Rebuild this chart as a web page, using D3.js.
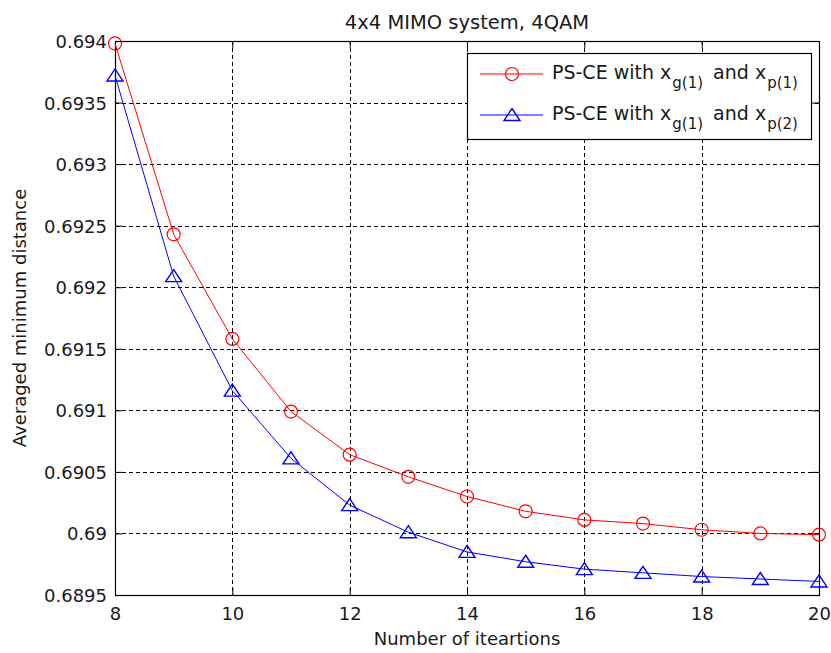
<!DOCTYPE html>
<html>
<head>
<meta charset="utf-8">
<script src="https://cdn.jsdelivr.net/npm/d3@7"></script>
<style>
  html, body { margin: 0; padding: 0; background: #fff; }
  svg { display: block; }
  text { font-family: "DejaVu Sans", sans-serif; fill: #1a1a1a; }
</style>
</head>
<body>
<svg id="chart" width="831" height="653"></svg>
<script>
// ---- data ----
const iterations = [8, 9, 10, 11, 12, 13, 14, 15, 16, 17, 18, 19, 20];
const seriesP1 = [0.69398, 0.69243, 0.69158, 0.69099, 0.69064, 0.69046, 0.69030, 0.69018, 0.69011, 0.69008, 0.69003, 0.69000, 0.68999];
const seriesP2 = [0.69372, 0.69209, 0.69116, 0.69061, 0.69023, 0.69001, 0.68985, 0.68977, 0.68971, 0.68968, 0.68965, 0.68963, 0.68961];
const xTicks = [8, 10, 12, 14, 16, 18, 20];
const yTicks = [0.6895, 0.69, 0.6905, 0.691, 0.6915, 0.692, 0.6925, 0.693, 0.6935, 0.694];
const yTickLabels = ["0.6895", "0.69", "0.6905", "0.691", "0.6915", "0.692", "0.6925", "0.693", "0.6935", "0.694"];
const titleText = "4x4 MIMO system, 4QAM";
const xLabelText = "Number of iteartions";
const yLabelText = "Averaged minimum distance";
const legendSub1 = ["g(1)", "p(1)"];
const legendSub2 = ["g(1)", "p(2)"];

// ---- layout ----
const L = 115, R = 819, T = 41, B = 595;
const svg = d3.select("#chart");

const x = d3.scaleLinear().domain([8, 20]).range([L, R]);
const y = d3.scaleLinear().domain([0.6895, 0.694]).range([B, T]);

// grid
const grid = svg.append("g").attr("stroke", "#000").attr("stroke-width", 1).attr("stroke-dasharray", "4,3");
grid.selectAll("line.gx").data(xTicks.slice(1, -1)).enter().append("line")
  .attr("x1", d => Math.round(x(d)) + 0.5).attr("x2", d => Math.round(x(d)) + 0.5)
  .attr("y1", T).attr("y2", B);
grid.selectAll("line.gy").data(yTicks.slice(1, -1)).enter().append("line")
  .attr("y1", d => Math.round(y(d)) + 0.5).attr("y2", d => Math.round(y(d)) + 0.5)
  .attr("x1", L).attr("x2", R);

// axes via d3.axis (inward ticks)
const tickLen = 7;
const fmtY = d => yTickLabels[yTicks.indexOf(d)];
function styleAxis(g) {
  g.select(".domain").remove();
  g.selectAll(".tick line").attr("stroke", "#000").attr("stroke-width", 1);
  g.selectAll(".tick text").attr("font-size", 18).attr("fill", "#1a1a1a").attr("font-family", "DejaVu Sans, sans-serif");
}
const gB = svg.append("g").attr("transform", `translate(0,${B})`)
  .call(d3.axisBottom(x).tickValues(xTicks).tickSize(-tickLen).tickPadding(0).tickFormat(d3.format("d")));
styleAxis(gB);
gB.selectAll(".tick text").attr("dy", null).attr("y", 25);

const gT = svg.append("g").attr("transform", `translate(0,${T})`)
  .call(d3.axisTop(x).tickValues(xTicks).tickSize(-tickLen).tickFormat(""));
styleAxis(gT);

const gL = svg.append("g").attr("transform", `translate(${L},0)`)
  .call(d3.axisLeft(y).tickValues(yTicks).tickSize(-tickLen).tickPadding(0).tickFormat(fmtY));
styleAxis(gL);
gL.selectAll(".tick text").attr("x", -8).attr("dy", "0.36em");

const gR = svg.append("g").attr("transform", `translate(${R},0)`)
  .call(d3.axisRight(y).tickValues(yTicks).tickSize(-tickLen).tickFormat(""));
styleAxis(gR);

// frame
svg.append("rect").attr("x", L + 0.5).attr("y", T + 0.5).attr("width", R - L).attr("height", B - T)
  .attr("fill", "none").attr("stroke", "#000").attr("stroke-width", 1.2);

// series
const line = d3.line().x((d, i) => x(iterations[i])).y(d => y(d));
svg.append("path").datum(seriesP1).attr("d", line).attr("fill", "none").attr("stroke", "#ff0000").attr("stroke-width", 1);
svg.append("path").datum(seriesP2).attr("d", line).attr("fill", "none").attr("stroke", "#0000ff").attr("stroke-width", 1);

const circleR = 6.5;
const triPath = "M0,-6.5 L8,5.5 L-8,5.5 Z";
svg.append("g").selectAll("circle").data(seriesP1).enter().append("circle")
  .attr("cx", (d, i) => x(iterations[i])).attr("cy", d => y(d)).attr("r", circleR)
  .attr("fill", "none").attr("stroke", "#ff0000").attr("stroke-width", 1.2);
svg.append("g").selectAll("path").data(seriesP2).enter().append("path")
  .attr("transform", (d, i) => `translate(${x(iterations[i])},${y(d)})`).attr("d", triPath)
  .attr("fill", "none").attr("stroke", "#0000ff").attr("stroke-width", 1.4);

// title and labels
svg.append("text").attr("x", (L + R) / 2).attr("y", 29).attr("text-anchor", "middle").attr("font-size", 19.5).text(titleText);
svg.append("text").attr("x", (L + R) / 2).attr("y", 645).attr("text-anchor", "middle").attr("font-size", 18).text(xLabelText);
svg.append("text").attr("transform", `translate(26,${(T + B) / 2}) rotate(-90)`).attr("text-anchor", "middle").attr("font-size", 18).text(yLabelText);

// legend
const lg = svg.append("g");
lg.append("rect").attr("x", 467.5).attr("y", 53.5).attr("width", 344).attr("height", 86)
  .attr("fill", "#fff").attr("stroke", "#000").attr("stroke-width", 1.2);
const rows = [
  { color: "#ff0000", sub: legendSub1, marker: "circle", cy: 74 },
  { color: "#0000ff", sub: legendSub2, marker: "tri", cy: 115 }
];
rows.forEach(r => {
  lg.append("line").attr("x1", 480).attr("x2", 543).attr("y1", r.cy).attr("y2", r.cy).attr("stroke", r.color).attr("stroke-width", 1);
  if (r.marker === "circle") {
    lg.append("circle").attr("cx", 512).attr("cy", r.cy).attr("r", circleR).attr("fill", "none").attr("stroke", r.color).attr("stroke-width", 1.2);
  } else {
    lg.append("path").attr("transform", `translate(512,${r.cy})`).attr("d", triPath).attr("fill", "none").attr("stroke", r.color).attr("stroke-width", 1.4);
  }
  const base = r.cy + 5;
  const t = lg.append("text").attr("font-size", 19).attr("x", 552).attr("y", base);
  t.append("tspan").text("PS-CE with x");
  t.append("tspan").attr("dx", 1).attr("dy", 9).attr("font-size", 15).text(r.sub[0]);
  t.append("tspan").attr("dx", 4).attr("dy", -9).text(" and x");
  t.append("tspan").attr("dx", 1).attr("dy", 9).attr("font-size", 15).text(r.sub[1]);
});
</script>
</body>
</html>
